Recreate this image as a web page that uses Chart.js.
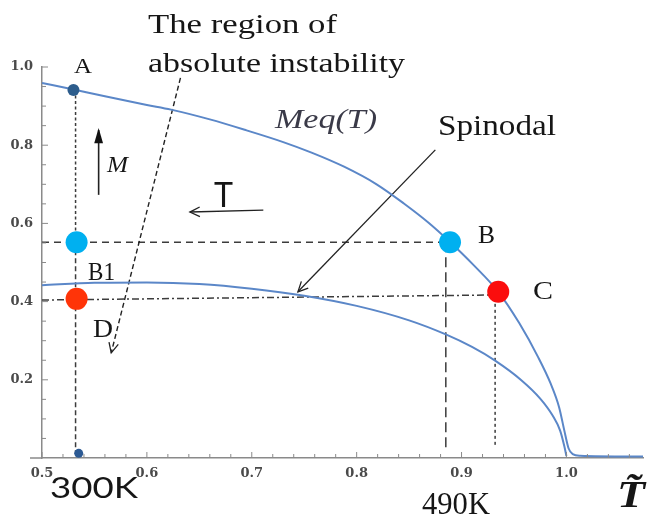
<!DOCTYPE html>
<html>
<head>
<meta charset="utf-8">
<title>Meq(T) and spinodal</title>
<script src="https://cdn.jsdelivr.net/npm/chart.js@4.4.1/dist/chart.umd.min.js"></script>
<style>
  html, body { margin: 0; padding: 0; background: #fff; }
  canvas { display: block; }
</style>
</head>
<body>
<canvas id="graph" width="654" height="515"></canvas>
<script>
// equilibrium magnetisation Meq(T)
var meqT = [0.5, 0.529, 0.56, 0.6, 0.623, 0.66, 0.695, 0.73, 0.757, 0.788, 0.819, 0.845, 0.868, 0.888, 0.912, 0.935, 0.955, 0.973, 0.985, 0.993, 0.998, 1.002, 1.006, 1.013, 1.073];
var meqM = [0.959, 0.943, 0.925, 0.903, 0.891, 0.866, 0.838, 0.808, 0.781, 0.745, 0.700, 0.651, 0.603, 0.555, 0.492, 0.425, 0.345, 0.258, 0.19, 0.13, 0.07, 0.025, 0.01, 0.006, 0.004];

// spinodal
var spinT = [0.5, 0.55, 0.6, 0.65, 0.7, 0.75, 0.8, 0.85, 0.885, 0.91, 0.932, 0.957, 0.975, 0.987, 0.994, 0.998, 1.0];
var spinM = [0.442, 0.448, 0.449, 0.445, 0.433, 0.415, 0.389, 0.352, 0.316, 0.284, 0.249, 0.199, 0.152, 0.108, 0.07, 0.03, 0.005];

// marked states [T, M]
var stateA = [0.530, 0.941];
var stateA0 = [0.535, 0.012];
var stateB = [0.889, 0.552];
var stateB1 = [0.533, 0.552];
var stateC = [0.935, 0.425];
var stateD = [0.533, 0.407];

// guide lines [T, M] pairs
var guideAtop = [[0.532, 0.941], [0.532, 0.552]];
var guideAbottom = [[0.532, 0.552], [0.532, 0.012]];
var guideBh = [[0.5, 0.552], [0.889, 0.552]];
var guideBv = [[0.885, 0.552], [0.885, 0.02]];
var guideCh = [[0.5, 0.404], [0.935, 0.417]];
var guideCv = [[0.932, 0.425], [0.932, 0.026]];

// arrows, tail then tip
var arrowRegion = [[0.632, 0.972], [0.566, 0.269]];
var arrowSpinodal = [[0.875, 0.788], [0.744, 0.425]];
var arrowT = [[0.711, 0.634], [0.641, 0.629]];
var arrowM = [[0.554, 0.673], [0.554, 0.839]];

// axes
var xTickValues = [0.5, 0.6, 0.7, 0.8, 0.9, 1.0];
var xTickLabels = ['0.5', '0.6', '0.7', '0.8', '0.9', '1.0'];
var yTickValues = [0.2, 0.4, 0.6, 0.8, 1.0];
var yTickLabels = ['0.2', '0.4', '0.6', '0.8', '1.0'];

var serif = '"Liberation Serif", "Times New Roman", serif';
var sans = 'Lato, "Liberation Sans", sans-serif';

// annotations: left x, baseline y, width to fit
var notes = [
  { text: 'The region of', x: 148, y: 33, w: 189, font: '27px ' + serif },
  { text: 'absolute instability', x: 148, y: 72, w: 257, font: '27px ' + serif },
  { text: 'A', x: 74, y: 73, w: 18, font: '22px ' + serif },
  { text: 'Meq(T)', x: 275, y: 128, w: 102, font: 'italic 27px ' + serif, color: '#3a3a48' },
  { text: 'Spinodal', x: 438, y: 135, w: 118, font: '29px ' + serif },
  { text: 'B', x: 478, y: 243, w: 17, font: '26px ' + serif },
  { text: 'C', x: 533, y: 299, w: 20, font: '26px ' + serif },
  { text: 'B1', x: 88, y: 280, w: 27, font: '26px ' + serif },
  { text: 'D', x: 93, y: 337, w: 20, font: '26px ' + serif },
  { text: 'M', x: 107, y: 172, w: 21, font: 'italic 24px ' + serif },
  { text: 'T', x: 214, y: 207, w: 19, font: '34px ' + sans },
  { text: '300K', x: 50, y: 498, w: 88, font: '29px ' + sans },
  { text: '490K', x: 422, y: 514, w: 68, font: '32px ' + serif },
  { text: 'T\u0303', x: 617, y: 507, w: 28, font: 'bold italic 38px ' + serif }
];

function pts(ts, ms) {
  return ts.map(function(t, i) { return { x: t, y: ms[i] }; });
}
function pair(p) {
  return p.map(function(q) { return { x: q[0], y: q[1] }; });
}
function isMajor(v, list) {
  for (var i = 0; i < list.length; i++) {
    if (Math.abs(list[i] - v) < 1e-6) { return i; }
  }
  return -1;
}

var curveColor = '#5b87c8';
var guideColor = '#3c3c3c';

function guide(p, dash) {
  return { data: pair(p), showLine: true, pointRadius: 0, borderColor: guideColor,
    borderWidth: 1.5, borderDash: dash, order: 6 };
}
function arrow(p, dash, head, width) {
  return { data: pair(p), showLine: true, pointRadius: 0, borderColor: '#222',
    borderWidth: width, borderDash: dash, order: 4, arrow: head };
}
function dot(p, r, color) {
  return { data: pair([p]), pointRadius: r, pointHoverRadius: r, backgroundColor: color,
    borderWidth: 0, order: 1 };
}

var decorations = {
  id: 'decorations',
  afterDatasetsDraw: function(chart) {
    var ctx = chart.ctx;
    // arrow heads at the tip of each arrow dataset
    chart.data.datasets.forEach(function(ds, i) {
      if (!ds.arrow) { return; }
      var el = chart.getDatasetMeta(i).data;
      var a = el[0], b = el[1];
      var ang = Math.atan2(b.y - a.y, b.x - a.x);
      ctx.save();
      ctx.strokeStyle = '#222';
      ctx.fillStyle = '#111';
      ctx.lineWidth = 1.3;
      ctx.setLineDash([]);
      if (ds.arrow === 'filled') {
        ctx.beginPath();
        ctx.moveTo(b.x + Math.cos(ang) * 2, b.y + Math.sin(ang) * 2);
        ctx.lineTo(b.x - Math.cos(ang - 0.32) * 14, b.y - Math.sin(ang - 0.32) * 14);
        ctx.lineTo(b.x - Math.cos(ang + 0.32) * 14, b.y - Math.sin(ang + 0.32) * 14);
        ctx.closePath();
        ctx.fill();
      } else {
        ctx.beginPath();
        ctx.moveTo(b.x - Math.cos(ang - 0.45) * 11, b.y - Math.sin(ang - 0.45) * 11);
        ctx.lineTo(b.x, b.y);
        ctx.lineTo(b.x - Math.cos(ang + 0.45) * 11, b.y - Math.sin(ang + 0.45) * 11);
        ctx.stroke();
      }
      ctx.restore();
    });
  },
  afterDraw: function(chart) {
    var ctx = chart.ctx;
    var area = chart.chartArea;
    var xs = chart.scales.x, ys = chart.scales.y;
    ctx.save();
    ctx.strokeStyle = '#8a8a8a';
    ctx.lineWidth = 1;
    // inward tick marks
    xs.ticks.forEach(function(t) {
      var px = xs.getPixelForValue(t.value);
      var len = isMajor(t.value, xTickValues) >= 0 ? 6 : 4;
      ctx.beginPath();
      ctx.moveTo(px, area.bottom);
      ctx.lineTo(px, area.bottom - len);
      ctx.stroke();
    });
    ys.ticks.forEach(function(t) {
      var py = ys.getPixelForValue(t.value);
      var len = isMajor(t.value, yTickValues) >= 0 ? 6 : 4;
      ctx.beginPath();
      ctx.moveTo(area.left, py);
      ctx.lineTo(area.left + len, py);
      ctx.stroke();
    });
    // the horizontal axis runs a little past the vertical one
    ctx.lineWidth = 1.5;
    ctx.beginPath();
    ctx.moveTo(area.left - 12, area.bottom);
    ctx.lineTo(area.left, area.bottom);
    ctx.stroke();
    ctx.restore();

    notes.forEach(function(n) {
      ctx.save();
      ctx.font = n.font;
      ctx.fillStyle = n.color || '#161616';
      ctx.textBaseline = 'alphabetic';
      ctx.textAlign = 'left';
      var w = ctx.measureText(n.text).width;
      ctx.translate(n.x, n.y);
      ctx.scale(n.w / w, 1);
      ctx.fillText(n.text, 0, 0);
      ctx.restore();
    });
  }
};

var tickFont = { family: '"DejaVu Serif", serif', size: 13, weight: 'bold' };

new Chart(document.getElementById('graph'), {
  type: 'scatter',
  data: {
    datasets: [
      dot(stateA, 6, '#2d5d8c'),
      dot(stateA, 1.6, '#2fd070'),
      dot(stateA0, 4.5, '#2c5a94'),
      dot(stateB1, 11, '#00b0f0'),
      dot(stateB, 11, '#00b0f0'),
      dot(stateD, 11, '#ff3408'),
      dot(stateC, 11, '#fb0d0d'),
      { data: pts(meqT, meqM), showLine: true, pointRadius: 0, borderColor: curveColor,
        borderWidth: 2, cubicInterpolationMode: 'monotone', order: 3 },
      { data: pts(spinT, spinM), showLine: true, pointRadius: 0, borderColor: curveColor,
        borderWidth: 2, cubicInterpolationMode: 'monotone', order: 3 },
      guide(guideAtop, [3, 2.5]),
      guide(guideAbottom, [5, 3]),
      guide(guideBh, [7, 5]),
      guide(guideBv, [10, 5]),
      guide(guideCh, [7, 3, 2, 3]),
      guide(guideCv, [3, 3]),
      arrow(arrowRegion, [5, 3], 'open', 1.4),
      arrow(arrowSpinodal, [], 'open', 1.3),
      arrow(arrowT, [], 'open', 1.4),
      arrow(arrowM, [], 'filled', 1.6)
    ]
  },
  options: {
    responsive: false,
    animation: false,
    events: [],
    layout: { padding: { left: 0, right: 0, top: 67, bottom: 0 } },
    plugins: { legend: { display: false }, tooltip: { enabled: false } },
    scales: {
      x: {
        type: 'linear',
        min: 0.5,
        max: 1.073,
        grid: { display: false, drawTicks: false },
        border: { display: true, color: '#8a8a8a', width: 1.5 },
        afterBuildTicks: function(scale) {
          var t = [];
          for (var v = 0.5; v < 1.07; v += 0.02) { t.push({ value: Math.round(v * 100) / 100 }); }
          scale.ticks = t;
        },
        afterFit: function(scale) { scale.height = 57; },
        ticks: {
          autoSkip: false,
          maxRotation: 0,
          padding: 8,
          color: '#4a4a4a',
          font: tickFont,
          callback: function(v) {
            var i = isMajor(v, xTickValues);
            return i >= 0 ? xTickLabels[i] : '';
          }
        }
      },
      y: {
        type: 'linear',
        min: 0,
        max: 1.0,
        grid: { display: false, drawTicks: false },
        border: { display: true, color: '#8a8a8a', width: 1.5 },
        afterBuildTicks: function(scale) {
          var t = [];
          for (var k = 1; k <= 20; k++) { t.push({ value: k / 20 }); }
          scale.ticks = t;
        },
        afterFit: function(scale) { scale.width = 42; },
        ticks: {
          autoSkip: false,
          padding: 9,
          color: '#4a4a4a',
          font: tickFont,
          callback: function(v) {
            var i = isMajor(v, yTickValues);
            return i >= 0 ? yTickLabels[i] : '';
          }
        }
      }
    }
  },
  plugins: [decorations]
});
</script>
</body>
</html>
